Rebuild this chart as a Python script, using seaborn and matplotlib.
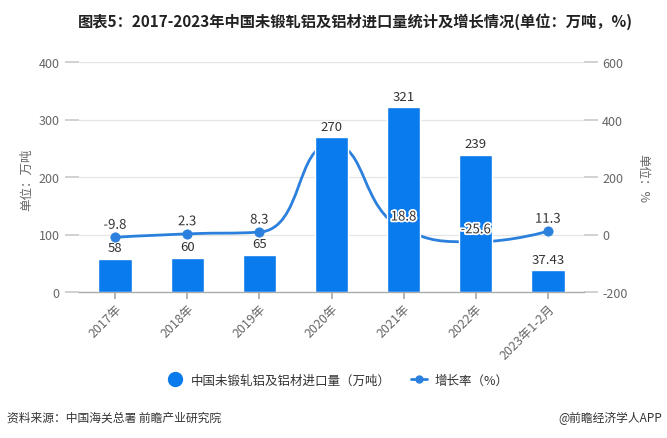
import numpy as np
import pandas as pd
import matplotlib
matplotlib.use("Agg")
import matplotlib.pyplot as plt
import seaborn as sns
from matplotlib.path import Path
from matplotlib.patches import PathPatch
from matplotlib.lines import Line2D
import matplotlib.patheffects as pe

# ---- data ----
categories = ["2017年", "2018年", "2019年", "2020年", "2021年", "2022年", "2023年1-2月"]
import_volume = [58, 60, 65, 270, 321, 239, 37.43]
growth_rate = [-9.8, 2.3, 8.3, 315, 18.8, -25.6, 11.3]
growth_label_hidden = ["2020年"]
left_ticks = [0, 100, 200, 300, 400]
right_ticks = [-200, 0, 200, 400, 600]

title = "图表5：2017-2023年中国未锻轧铝及铝材进口量统计及增长情况(单位：万吨，%)"
bar_name = "中国未锻轧铝及铝材进口量（万吨）"
line_name = "增长率（%）"
source = "资料来源：中国海关总署 前瞻产业研究院"
credit = "@前瞻经济学人APP"

BAR_C = "#0a7bec"
LINE_C = "#2a80dc"
TXT = "#333333"
AX_T = "#666666"

sns.set_theme(style="white")
plt.rcParams["font.family"] = ["Noto Sans CJK SC", "DejaVu Sans"]
plt.rcParams["axes.unicode_minus"] = False

df = pd.DataFrame({"cat": categories, "vol": import_volume, "growth": growth_rate})
df["pos"] = np.arange(len(df))

W, H = 667, 439
fig = plt.figure(figsize=(W / 100, H / 100), dpi=100)
ax = fig.add_axes([79 / W, 1 - 293 / H, (584 - 79) / W, (293 - 63) / H])
ax2 = ax.twinx()
ax.set_zorder(ax2.get_zorder() + 1)
ax.patch.set_visible(False)

sns.barplot(data=df, x="cat", y="vol", ax=ax, color=BAR_C, saturation=1, width=0.46, zorder=3)
ax.set_xlim(-0.5, len(df) - 0.5)
ax.set_ylim(left_ticks[0], left_ticks[-1])
ax.set_yticks(left_ticks)
ax2.set_ylim(right_ticks[0], right_ticks[-1])
ax2.set_yticks(right_ticks)
ax.set_xlabel("")
ax.set_ylabel("")
ax2.set_ylabel("")

for a in (ax, ax2):
    for s in ["top", "right", "left"]:
        a.spines[s].set_visible(False)
ax2.spines["bottom"].set_visible(False)
ax.spines["bottom"].set_color("#aaaaaa")
ax.spines["bottom"].set_linewidth(1)

ax.grid(False)
ax2.grid(axis="y", color="#e6e6e6", linewidth=0.9)
ax2.grid(axis="x", visible=False)

ax.tick_params(axis="y", length=10, color="#cccccc", labelcolor=AX_T, labelsize=9, pad=4, left=True)
ax2.tick_params(axis="y", length=10, color="#cccccc", labelcolor=AX_T, labelsize=9, pad=3, right=True)
ax.tick_params(axis="x", length=5, color="#aaaaaa", labelcolor=AX_T, labelsize=9, bottom=True, pad=2)
for lab in ax.get_xticklabels():
    lab.set_rotation(45)
    lab.set_ha("right")
    lab.set_va("top")
    lab.set_rotation_mode("anchor")

# ---- smooth line (ECharts-style bezier) ----
fig.canvas.draw()
trans = ax2.transData
pts = trans.transform(np.column_stack([df["pos"].values, df["growth"].values]))
smooth = 0.5
verts = [tuple(pts[0])]
codes = [Path.MOVETO]
cp0 = tuple(pts[0])
n = len(pts)
for i in range(1, n):
    x, y = pts[i]
    if i < n - 1:
        px, py = pts[i - 1]
        nx, ny = pts[i + 1]
        vx, vy = nx - px, ny - py
        lp = np.hypot(x - px, y - py)
        ln = np.hypot(nx - x, ny - y)
        r = ln / (ln + lp)
        ncx = x + vx * smooth * r
        ncy = y + vy * smooth * r
        ncx = max(min(ncx, max(nx, x)), min(nx, x))
        ncy = max(min(ncy, max(ny, y)), min(ny, y))
        vx, vy = ncx - x, ncy - y
        c1x = x - vx * lp / ln
        c1y = y - vy * lp / ln
        c1x = max(min(c1x, max(px, x)), min(px, x))
        c1y = max(min(c1y, max(py, y)), min(py, y))
        vx, vy = x - c1x, y - c1y
        ncx = x + vx * ln / lp
        ncy = y + vy * ln / lp
    else:
        c1x, c1y = x, y
        ncx, ncy = x, y
    verts += [cp0, (c1x, c1y), (x, y)]
    codes += [Path.CURVE4] * 3
    cp0 = (ncx, ncy)
verts_data = trans.inverted().transform(np.array(verts))
ax2.add_patch(PathPatch(Path(verts_data, codes), facecolor="none", edgecolor=LINE_C, lw=2, zorder=2))
sns.scatterplot(data=df, x="pos", y="growth", ax=ax2, color=LINE_C, s=45, edgecolor=LINE_C, zorder=3, legend=False)
ax2.set_xlabel("")
ax2.set_ylabel("")
ax.set_xlim(-0.5, len(df) - 0.5)

# ---- labels ----
for i, v in enumerate(import_volume):
    ax.annotate(f"{v:g}", (i, v), xytext=(0, 3), textcoords="offset points",
                ha="center", va="bottom", fontsize=9.5, color=TXT, zorder=5)
for i, (c, g) in enumerate(zip(categories, growth_rate)):
    if c in growth_label_hidden:
        continue
    t = ax.annotate(f"{g:g}", (i, g), xycoords=ax2.transData, xytext=(0, 4), textcoords="offset points",
                    ha="center", va="bottom", fontsize=9.5, color=TXT, zorder=6)
    t.set_path_effects([pe.withStroke(linewidth=2.5, foreground="white")])

# ---- texts ----
fig.text(355 / W, 1 - 22 / H, title, ha="center", va="center", fontsize=11, fontweight="bold", color="#222222")
fig.text(27 / W, 1 - 180 / H, "单位：万吨", rotation=90, ha="center", va="center", fontsize=9, color=AX_T)
fig.text(643 / W, 1 - 178 / H, "单位：%", rotation=270, ha="center", va="center", fontsize=9, color=AX_T)
fig.text(7 / W, 1 - 418 / H, source, ha="left", va="center", fontsize=8.5, color=TXT)
fig.text(662 / W, 1 - 418 / H, credit, ha="right", va="center", fontsize=8.5, color=TXT)

handles = [
    Line2D([], [], linestyle="none", marker="o", markersize=10, color=BAR_C),
    Line2D([], [], linestyle="-", lw=2, marker="o", markersize=5, color=LINE_C),
]
fig.legend(handles, [bar_name, line_name], loc="center", bbox_to_anchor=(338 / W, 1 - 381 / H),
           ncol=2, frameon=False, fontsize=9, handlelength=1.3, handletextpad=0.6, columnspacing=1.6,
           labelcolor=TXT)

fig.savefig("out.png", dpi=100)
